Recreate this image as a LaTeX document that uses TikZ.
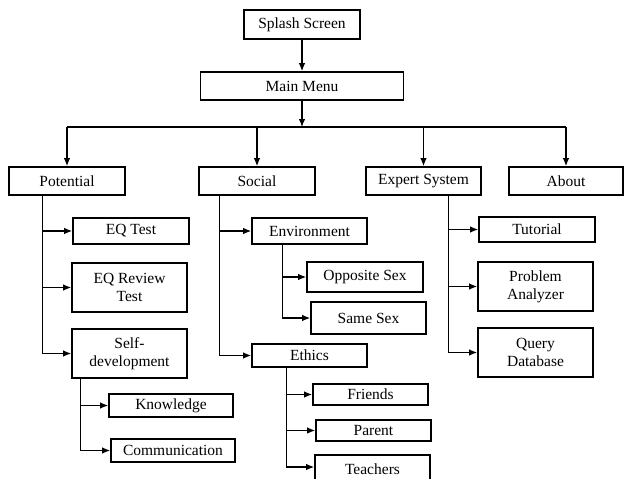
\documentclass[tikz,border=0pt]{standalone}
\usepackage{fontspec}
\setmainfont{Liberation Serif}
\usetikzlibrary{arrows.meta}

\tikzset{
  screen/.style={draw, line width=1.7pt, rectangle, align=center, inner sep=1pt,
    font=\fontsize{15.5}{18}\selectfont},
}

\begin{document}
\begin{tikzpicture}[x=1pt, y=-1pt, line width=1.2pt, >={Latex[length=8pt,width=6.5pt]}]
    \useasboundingbox (0,0) rectangle (624,479);

    % top levels
    \node[screen, minimum width=116pt, minimum height=29pt] (splash) at (302,24.5) {Splash Screen};
    \node[screen, minimum width=203pt, minimum height=28pt] (main)   at (302,86)   {Main Menu};
    \coordinate (bar) at (302,127);

    \node[screen, minimum width=116pt, minimum height=28pt] (pot)   at (67,181)    {Potential};
    \node[screen, minimum width=116pt, minimum height=28pt] (soc)   at (257,181)   {Social};
    \node[screen, minimum width=115pt, minimum height=28pt] (exp)   at (423.5,181) {Expert System};
    \node[screen, minimum width=114pt, minimum height=28pt] (about) at (566,181)   {About};

    % potential
    \node[screen, minimum width=116pt, minimum height=26pt] (eqt)  at (131,231)     {EQ Test};
    \node[screen, minimum width=115pt, minimum height=49pt] (eqr)  at (129.5,287.5) {EQ Review\\Test};
    \node[screen, minimum width=115pt, minimum height=49pt] (self) at (129.5,353.5) {Self-\\development};
    \node[screen, minimum width=124pt, minimum height=23pt] (know) at (171,405.5)   {Knowledge};
    \node[screen, minimum width=124pt, minimum height=23pt] (comm) at (173,450.5)   {Communication};

    % social
    \node[screen, minimum width=115pt, minimum height=26pt] (env)  at (309.5,231)   {Environment};
    \node[screen, minimum width=116pt, minimum height=30pt] (opp)  at (365,277)     {Opposite Sex};
    \node[screen, minimum width=115pt, minimum height=32pt] (same) at (368.5,318)   {Same Sex};
    \node[screen, minimum width=115pt, minimum height=23pt] (eth)  at (309.5,355.5) {Ethics};
    \node[screen, minimum width=115pt, minimum height=21pt] (fri)  at (370.5,394.5) {Friends};
    \node[screen, minimum width=115pt, minimum height=21pt] (par)  at (373.5,430.5) {Parent};
    \node[screen, minimum width=115pt, minimum height=28pt] (tea)  at (372.5,469)   {Teachers};

    % expert system
    \node[screen, minimum width=116pt, minimum height=25pt] (tut)   at (537,229.5)   {Tutorial};
    \node[screen, minimum width=115pt, minimum height=49pt] (prob)  at (535.5,286.5) {Problem\\Analyzer};
    \node[screen, minimum width=115pt, minimum height=49pt] (query) at (535.5,352.5) {Query\\Database};

    \path[->]
    (splash) edge (main)
    (main) edge (bar);

    \draw (pot.north |- bar) -- (about.north |- bar);
    \draw[->] (pot.north |- bar) -- (pot);
    \draw[->] (soc.north |- bar) -- (soc);
    \draw[->] (exp.north |- bar) -- (exp);
    \draw[->] (about.north |- bar) -- (about);

    \draw[->] ([xshift=34pt]pot.south west) |- (eqt.west);
    \draw[->] ([xshift=34pt]pot.south west) |- (eqr.west);
    \draw[->] ([xshift=34pt]pot.south west) |- (self.west);
    \draw[->] ([xshift=9pt]self.south west) |- (know.west);
    \draw[->] ([xshift=9pt]self.south west) |- (comm.west);

    \draw[->] ([xshift=21pt]soc.south west) |- (env.west);
    \draw[->] ([xshift=21pt]soc.south west) |- (eth.west);
    \draw[->] ([xshift=31pt]env.south west) |- (opp.west);
    \draw[->] ([xshift=31pt]env.south west) |- (same.west);
    \draw[->] ([xshift=35pt]eth.south west) |- (fri.west);
    \draw[->] ([xshift=35pt]eth.south west) |- (par.west);
    \draw[->] ([xshift=35pt]eth.south west) |- ([yshift=2pt]tea.west);

    \draw[->] ([xshift=83pt]exp.south west) |- (tut.west);
    \draw[->] ([xshift=83pt]exp.south west) |- (prob.west);
    \draw[->] ([xshift=83pt]exp.south west) |- (query.west);
\end{tikzpicture}
\end{document}
